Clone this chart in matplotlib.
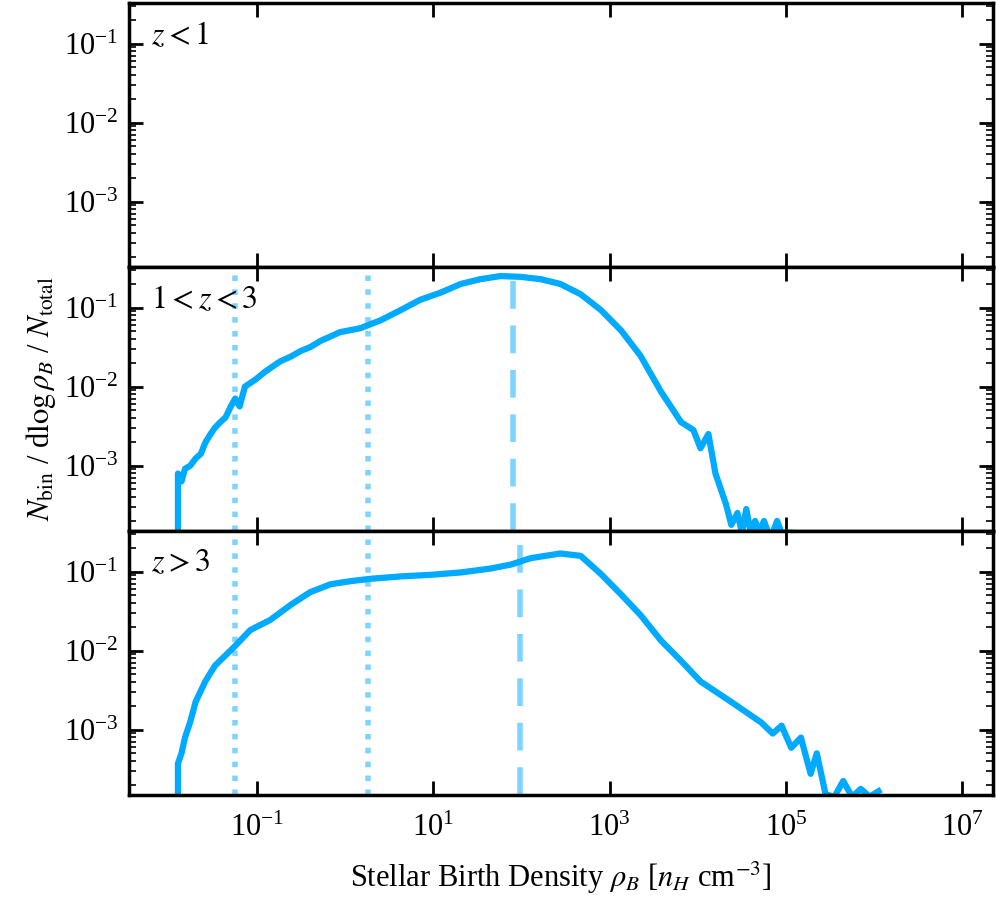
import numpy as np
import matplotlib
matplotlib.use("Agg")
from matplotlib import pyplot as plt

plt.rcParams['font.family'] = ['Liberation Serif', 'DejaVu Serif']
plt.rcParams['mathtext.fontset'] = 'stix'

# log10 of density / distribution
mid_logx = [-1.90, -1.90, -1.86, -1.82, -1.76, -1.70, -1.64, -1.59, -1.53, -1.48, -1.42, -1.36, -1.30, -1.25,
            -1.20, -1.14, -1.02, -0.91, -0.74, -0.62, -0.51, -0.40, -0.28, -0.06, 0.17, 0.40, 0.63, 0.85, 1.08, 1.31,
            1.53, 1.76, 1.99, 2.22, 2.44, 2.67, 2.90, 3.13, 3.35, 3.58, 3.81, 3.95, 4.03, 4.12, 4.20, 4.32, 4.38,
            4.45, 4.50, 4.55, 4.60, 4.65, 4.70, 4.75, 4.80, 4.85, 4.90, 4.95, 5.05]
mid_logy = [-3.85, -3.10, -3.20, -3.04, -3.00, -2.91, -2.85, -2.71, -2.60, -2.52, -2.45, -2.39, -2.25, -2.15,
            -2.25, -2.00, -1.91, -1.81, -1.68, -1.62, -1.55, -1.50, -1.42, -1.31, -1.26, -1.16, -1.03, -0.90, -0.81, -0.70,
            -0.64, -0.60, -0.61, -0.64, -0.70, -0.83, -1.03, -1.29, -1.61, -2.06, -2.45, -2.55, -2.78, -2.60, -3.10, -3.49, -3.75,
            -3.60, -3.85, -3.55, -3.85, -3.70, -3.85, -3.70, -3.85, -3.85, -3.70, -3.85, -3.85]

bot_logx = [-1.90, -1.90, -1.86, -1.82, -1.76, -1.70, -1.59, -1.48, -1.36, -1.25, -1.08, -0.85, -0.62, -0.40,
            -0.17, 0.06, 0.29, 0.63, 0.97, 1.31, 1.65, 1.88, 2.10, 2.44, 2.67, 2.90, 3.13, 3.35, 3.58, 3.81,
            4.03, 4.38, 4.72, 4.85, 4.95, 5.06, 5.17, 5.28, 5.35, 5.45, 5.55, 5.65, 5.75, 5.85, 5.95, 6.05]
bot_logy = [-3.85, -3.43, -3.30, -3.10, -2.90, -2.65, -2.39, -2.19, -2.06, -1.94, -1.74, -1.61, -1.42, -1.26,
            -1.16, -1.12, -1.09, -1.06, -1.04, -1.01, -0.96, -0.91, -0.83, -0.77, -0.80, -1.03, -1.29, -1.55,
            -1.87, -2.13, -2.39, -2.65, -2.91, -3.05, -2.95, -3.23, -3.10, -3.56, -3.30, -3.82, -3.85, -3.65,
            -3.85, -3.75, -3.85, -3.78]

mid_dotted = [0.056, 1.8]
mid_dashed = 80.0
bot_dotted = [0.056, 1.8]
bot_dashed = 95.0

labels = [r'$z<1$', r'$1<z<3$', r'$z>3$']
line_c = '#00AAFF'
vline_c = '#7FD4FF'

fig, axes = plt.subplots(3, 1, figsize=(9.96, 9), dpi=100, sharex=True)
fig.subplots_adjust(left=0.13, right=0.997, bottom=0.117, top=0.997, hspace=0)

series = [None, (mid_logx, mid_logy, mid_dotted, mid_dashed), (bot_logx, bot_logy, bot_dotted, bot_dashed)]

for ax, lab, s in zip(axes, labels, series):
    if s is not None:
        lx, ly, dots, dash = s
        for d in dots:
            ax.axvline(d, color=vline_c, lw=4, ls=(0, (1, 1.5)))
        ax.axvline(dash, color=vline_c, lw=4, ls=(0, (5, 3)))
        ax.plot(10 ** np.array(lx), 10 ** np.array(ly), color=line_c, lw=4.5)
    ax.set_xscale('log')
    ax.set_yscale('log')
    ax.set_xlim(10 ** -2.45, 10 ** 7.35)
    ax.set_ylim(1.5e-4, 0.33)
    ax.set_yticks([1e-3, 1e-2, 1e-1])
    ax.text(0.025, 0.93, lab, transform=ax.transAxes, fontsize=23, va='top')
    for sp in ax.spines.values():
        sp.set_linewidth(2.5)
    ax.tick_params(which='both', direction='in', top=True, right=True, labelsize=22)
    ax.tick_params(which='major', length=10, width=2, pad=8)
    ax.tick_params(which='minor', length=5, width=1.2)

axes[2].set_xticks([1e-1, 1e1, 1e3, 1e5, 1e7])
axes[2].xaxis.set_minor_locator(matplotlib.ticker.NullLocator())
axes[2].tick_params(axis='x', pad=14)
axes[2].set_xlabel(r'Stellar Birth Density $\rho_B$ [$n_H$ cm$^{-3}$]', fontsize=22, labelpad=12)
axes[1].set_ylabel(r'$N_{\rm bin}$ / d$\log\rho_B$ / $N_{\rm total}$', fontsize=22, labelpad=4)

fig.savefig('out.png', dpi=100)
